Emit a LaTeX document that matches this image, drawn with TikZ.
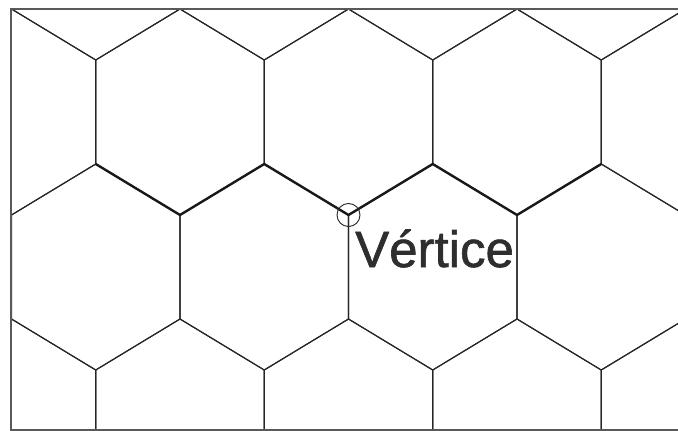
\documentclass[tikz,border=0pt]{standalone}
\usepackage{fontspec}
\setmainfont{Liberation Sans}
\newfontfamily\labelfont[FakeBold=1.2]{Liberation Sans}
\begin{document}
\begin{tikzpicture}[x=1pt,y=-1pt,
  tile/.style={draw=black!85, line width=1.1pt, line join=miter},
  edgepath/.style={draw=black!90, line width=2.4pt, line join=miter},
  framepen/.style={draw=black!65, line width=1.4pt},
  hexcell/.pic={\path[tile] (0,-103) -- (84.25,-52) -- (84.25,52) -- (0,103)
      -- (-84.25,52) -- (-84.25,-52) -- cycle;}]
  \useasboundingbox (0,0) rectangle (678,431);
  % honeycomb, clipped to the frame
  \begin{scope}
    \clip (11,9) rectangle (690,430);
    \foreach \cy in {112,422}
      \foreach \i in {0,...,4}
        \pic at ({11.5+168.5*\i},\cy) {hexcell};
    \foreach \cy in {-43,267}
      \foreach \i in {0,...,3}
        \pic at ({95.75+168.5*\i},\cy) {hexcell};
  \end{scope}
  % highlighted zigzag of edges
  \path[edgepath] (95.75,164) -- (180,215) -- (264.25,164) -- (348.5,215)
    -- (432.75,164) -- (517,215) -- (601.25,164);
  % frame
  \path[framepen] (690,9) -- (11,9) -- (11,430) -- (690,430);
  % marked vertex and its label
  \node[draw=black!85, line width=0.9pt, circle, minimum size=23pt, inner sep=0pt] (vtx) at (348.5,215) {};
  \node[anchor=base west, inner sep=0pt, text=black!82,
        font=\labelfont\fontsize{51}{60}\selectfont] (lbl) at (355,267) {Vértice};
\end{tikzpicture}
\end{document}
